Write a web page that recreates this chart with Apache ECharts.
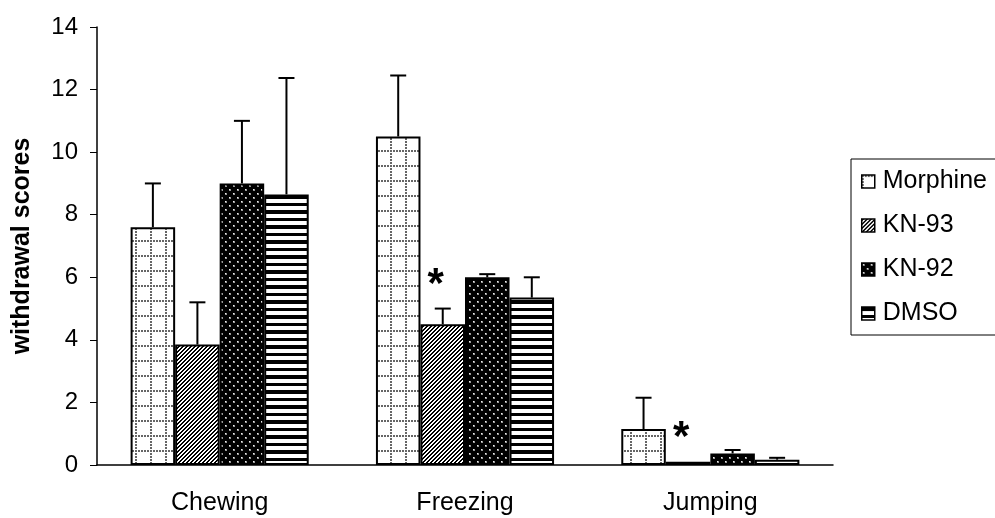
<!DOCTYPE html>
<html>
<head>
<meta charset="utf-8">
<script src="https://cdn.jsdelivr.net/npm/echarts@6/dist/echarts.min.js"></script>
<style>
  html, body { margin: 0; padding: 0; background: #fff; }
  #chart { width: 995px; height: 518px; }
</style>
</head>
<body>
<div id="chart"></div>
<script>
// data
var categories = ['Chewing', 'Freezing', 'Jumping'];
var seriesNames = ['Morphine', 'KN-93', 'KN-92', 'DMSO'];
var morphine = [7.6, 10.5, 1.15];
var morphineErr = [9.0, 12.45, 2.15];
var kn93 = [3.85, 4.5, 0.1];
var kn93Err = [5.2, 5.0, 0.1];
var kn92 = [9.0, 6.0, 0.37];
var kn92Err = [11.0, 6.1, 0.48];
var dmso = [8.65, 5.35, 0.17];
var dmsoErr = [12.37, 6.0, 0.23];
var kn93Star = [false, true, true];
var yTicks = { min: 0, max: 14, interval: 2 };

var values = [morphine, kn93, kn92, dmso];
var errs = [morphineErr, kn93Err, kn92Err, dmsoErr];
var stars = [[false, false, false], kn93Star, [false, false, false], [false, false, false]];

var FONT = '"Liberation Sans", Arial, sans-serif';
var CAT_GAP = 0.274;

// fill patterns
function tile(w, h, draw) {
  var c = document.createElement('canvas');
  c.width = w; c.height = h;
  var ctx = c.getContext('2d');
  ctx.fillStyle = '#fff';
  ctx.fillRect(0, 0, w, h);
  draw(ctx);
  return { image: c, repeat: 'repeat' };
}

var patterns = [
  // dotted grid
  tile(15, 15, function (ctx) {
    ctx.fillStyle = '#666';
    for (var i = 0; i < 15; i += 3) {
      ctx.fillRect(i, 0, 2, 2);
      ctx.fillRect(0, i, 2, 2);
    }
  }),
  // diagonal hatch
  tile(4, 4, function (ctx) {
    ctx.fillStyle = '#000';
    for (var x = 0; x < 4; x++) {
      for (var y = 0; y < 4; y++) {
        if ((x + y) % 4 < 2) ctx.fillRect(x, y, 1, 1);
      }
    }
  }),
  // black with light dots
  tile(8, 8, function (ctx) {
    ctx.fillStyle = '#000';
    ctx.fillRect(0, 0, 8, 8);
    ctx.fillStyle = '#999';
    ctx.fillRect(1, 1, 2, 2);
    ctx.fillRect(5, 5, 2, 2);
    ctx.fillStyle = '#eee';
    ctx.fillRect(1, 1, 1, 1);
    ctx.fillRect(5, 5, 1, 1);
  }),
  // horizontal stripes
  tile(15, 15, function (ctx) {
    ctx.fillStyle = '#000';
    ctx.fillRect(0, 0, 15, 4);
    ctx.fillRect(0, 8, 15, 3);
  })
];

var series = [];
for (var s = 0; s < seriesNames.length; s++) {
  series.push({
    name: seriesNames[s],
    type: 'bar',
    data: values[s],
    barGap: 0,
    barCategoryGap: (CAT_GAP * 100) + '%',
    itemStyle: { color: patterns[s], borderColor: '#000', borderWidth: 2 }
  });
}

// error bars + significance stars
var errData = [];
for (var s = 0; s < seriesNames.length; s++) {
  for (var c = 0; c < categories.length; c++) {
    errData.push([c, s, values[s][c], errs[s][c], stars[s][c] ? 1 : 0]);
  }
}

series.push({
  type: 'custom',
  z: 5,
  silent: true,
  data: errData,
  encode: { x: 0, y: 3 },
  renderItem: function (params, api) {
    var c = api.value(0), s = api.value(1);
    var band = api.size([1, 0])[0];
    var bw = band * (1 - CAT_GAP) / 4;
    var x = api.coord([c, 0])[0] - 2 * bw + (s + 0.5) * bw;
    var yv = api.coord([c, api.value(2)])[1];
    var ye = api.coord([c, api.value(3)])[1];
    var children = [];
    var style = { stroke: '#000', lineWidth: 2 };
    if (api.value(3) > api.value(2)) {
      children.push({ type: 'line', shape: { x1: x, y1: yv, x2: x, y2: ye }, style: style });
      children.push({ type: 'line', shape: { x1: x - 8, y1: ye, x2: x + 8, y2: ye }, style: style });
    }
    if (api.value(4)) {
      children.push({
        type: 'text',
        style: {
          text: '*', x: x - 7, y: Math.min(ye, yv) - 44,
          fill: '#000', font: 'bold 42px ' + FONT,
          align: 'center', verticalAlign: 'top'
        }
      });
    }
    return { type: 'group', children: children };
  }
});

var chart = echarts.init(document.getElementById('chart'));
chart.setOption({
  animation: false,
  backgroundColor: '#fff',
  grid: { left: 97, right: 162, top: 27, bottom: 53 },
  legend: {
    data: seriesNames,
    orient: 'vertical',
    left: 851,
    top: 159,
    padding: [10, 20, 9, 10],
    itemGap: 19,
    itemWidth: 13,
    itemHeight: 13,
    icon: 'rect',
    borderColor: '#000',
    borderWidth: 1,
    itemStyle: { borderWidth: 1.5 },
    textStyle: { fontFamily: FONT, fontSize: 25, color: '#000', lineHeight: 24, padding: [0, 0, 0, 3] }
  },
  xAxis: {
    type: 'category',
    data: categories,
    axisLine: { lineStyle: { color: '#000', width: 1.5 } },
    axisTick: { show: false },
    axisLabel: { fontFamily: FONT, fontSize: 25, color: '#000', margin: 26 }
  },
  yAxis: {
    type: 'value',
    min: yTicks.min,
    max: yTicks.max,
    interval: yTicks.interval,
    name: 'withdrawal scores',
    nameLocation: 'middle',
    nameRotate: 90,
    nameGap: 62,
    nameTextStyle: { fontFamily: FONT, fontSize: 25, fontWeight: 'bold', color: '#000' },
    axisLine: { show: true, lineStyle: { color: '#000', width: 1.5 } },
    axisTick: { show: true, length: 7, lineStyle: { color: '#000' } },
    splitLine: { show: false },
    axisLabel: { fontFamily: FONT, fontSize: 24, color: '#000', margin: 19 }
  },
  series: series
});
</script>
</body>
</html>
